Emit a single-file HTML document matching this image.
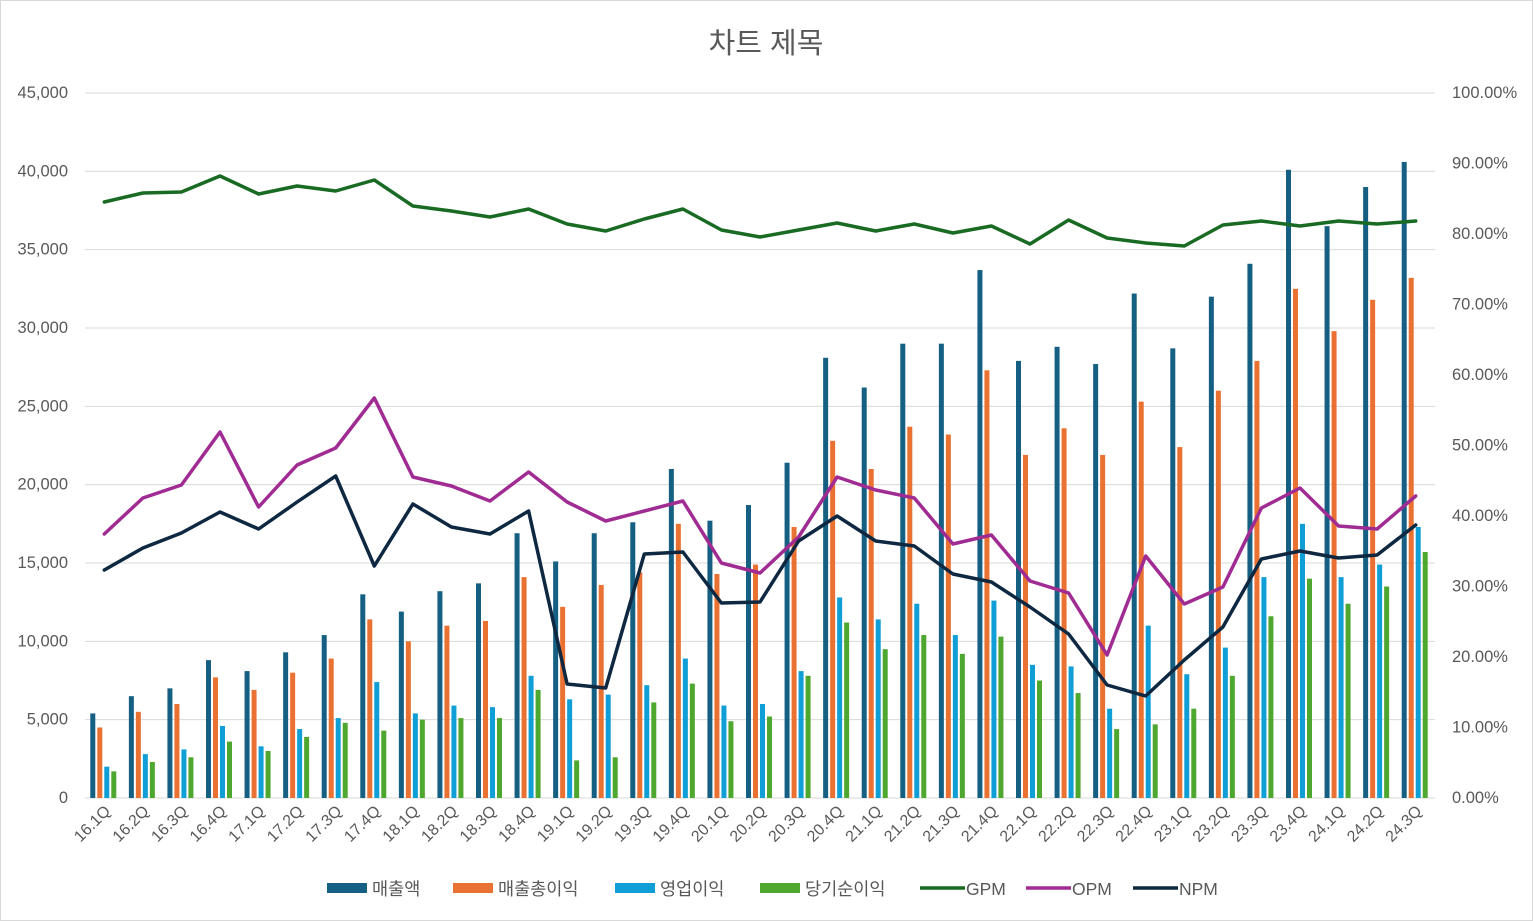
<!DOCTYPE html>
<html><head><meta charset="utf-8"><style>
html,body{margin:0;padding:0;background:#fff}
svg{display:block;font-family:"Liberation Sans","Noto Sans CJK KR",sans-serif}
</style></head><body>
<svg id="c" width="1533" height="921" xmlns="http://www.w3.org/2000/svg"></svg>
<script>
const s=document.getElementById('c');let h='';
h+='<rect x="0.5" y="0.5" width="1532" height="920" fill="#fff" stroke="#d9d9d9"/>';
h+='<text x="766" y="53" font-size="29" fill="#595959" text-anchor="middle">차트 제목</text>';
const y0=798,y1=93,x0=85,cw=1350/35;
for(let i=0;i<=9;i++){const y=y0-i*(y0-y1)/9;
h+=`<line x1="${x0}" x2="1435" y1="${y}" y2="${y}" stroke="#d9d9d9" stroke-width="1"/>`;
h+=`<text x="68" y="${y+5}" font-size="16.5" fill="#595959" text-anchor="end">${(i*5000).toLocaleString('en-US')}</text>`;}
for(let i=0;i<=10;i++){const y=y0-i*(y0-y1)/10;
h+=`<text x="1452" y="${y+5}" font-size="16.5" fill="#595959">${(i*10).toFixed(2)}%</text>`;}
const cats=[];for(let yy=16;yy<=24;yy++)for(let q=1;q<=4;q++){if(yy==24&&q==4)break;cats.push(yy+'.'+q+'Q');}
const A=[5.4,6.5,7.0,8.8,8.1,9.3,10.4,13.0,11.9,13.2,13.7,16.9,15.1,16.9,17.6,21.0,17.7,18.7,21.4,28.1,26.2,29.0,29.0,33.7,27.9,28.8,27.7,32.2,28.7,32.0,34.1,40.1,36.5,39.0,40.6];
const B=[4.5,5.5,6.0,7.7,6.9,8.0,8.9,11.4,10.0,11.0,11.3,14.1,12.2,13.6,14.4,17.5,14.3,14.9,17.3,22.8,21.0,23.7,23.2,27.3,21.9,23.6,21.9,25.3,22.4,26.0,27.9,32.5,29.8,31.8,33.2];
const C=[2.0,2.8,3.1,4.6,3.3,4.4,5.1,7.4,5.4,5.9,5.8,7.8,6.3,6.6,7.2,8.9,5.9,6.0,8.1,12.8,11.4,12.4,10.4,12.6,8.5,8.4,5.7,11.0,7.9,9.6,14.1,17.5,14.1,14.9,17.3];
const D=[1.7,2.3,2.6,3.6,3.0,3.9,4.8,4.3,5.0,5.1,5.1,6.9,2.4,2.6,6.1,7.3,4.9,5.2,7.8,11.2,9.5,10.4,9.2,10.3,7.5,6.7,4.4,4.7,5.7,7.8,11.6,14.0,12.4,13.5,15.7];
const cols=['#156082','#E97132','#0F9ED5','#4EA72E'];
const sc=(y0-y1)/45;
cats.forEach((c,i)=>{const cx=x0+cw*(i+0.5);
[A,B,C,D].forEach((arr,k)=>{const v=arr[i]*sc;h+=`<rect x="${cx-14+k*7}" y="${y0-v}" width="5" height="${v}" fill="${cols[k]}"/>`;});
h+=`<text transform="translate(${cx+7},${812}) rotate(-45)" font-size="16" fill="#595959" text-anchor="end">${c}</text>`;});
const G=[202,193,192,176,194,186,191,180,206,211,217,209,224,231,219,209,230,237,230,223,231,224,233,226,244,220,238,243,246,225,221,226,221,224,221];
const O=[534,498,485,432,507,465,448,398,477,486,501,472,502,521,511,501,563,573,537,477,490,498,544,535,581,593,655,556,604,587,508,488,526,529,496];
const N=[570,548,533,512,529,502,476,566,504,527,534,511,684,688,554,552,603,602,541,516,541,546,574,582,607,634,685,696,660,627,559,551,558,555,525];
[[G,'#196B24'],[O,'#A02B93'],[N,'#0E2841']].forEach(([a,col])=>{
h+=`<polyline fill="none" stroke="${col}" stroke-width="3.5" stroke-linejoin="round" stroke-linecap="round" points="${a.map((y,i)=>(x0+cw*(i+0.5)).toFixed(1)+','+y).join(' ')}"/>`;});
const L=[['매출액',327,'#156082','r'],['매출총이익',453,'#E97132','r'],['영업이익',615,'#0F9ED5','r'],['당기순이익',760,'#4EA72E','r'],['GPM',920,'#196B24','l'],['OPM',1026,'#A02B93','l'],['NPM',1133,'#0E2841','l']];
L.forEach(([t,x,col,k])=>{
if(k=='r')h+=`<rect x="${x}" y="883" width="40" height="10" fill="${col}"/>`;
else h+=`<line x1="${x}" x2="${x+45}" y1="888" y2="888" stroke="${col}" stroke-width="3.5"/>`;
h+=`<text x="${x+(k=='r'?45:46)}" y="895" font-size="17.5" fill="#595959">${t}</text>`;});
s.innerHTML=h;
</script>
</body></html>
